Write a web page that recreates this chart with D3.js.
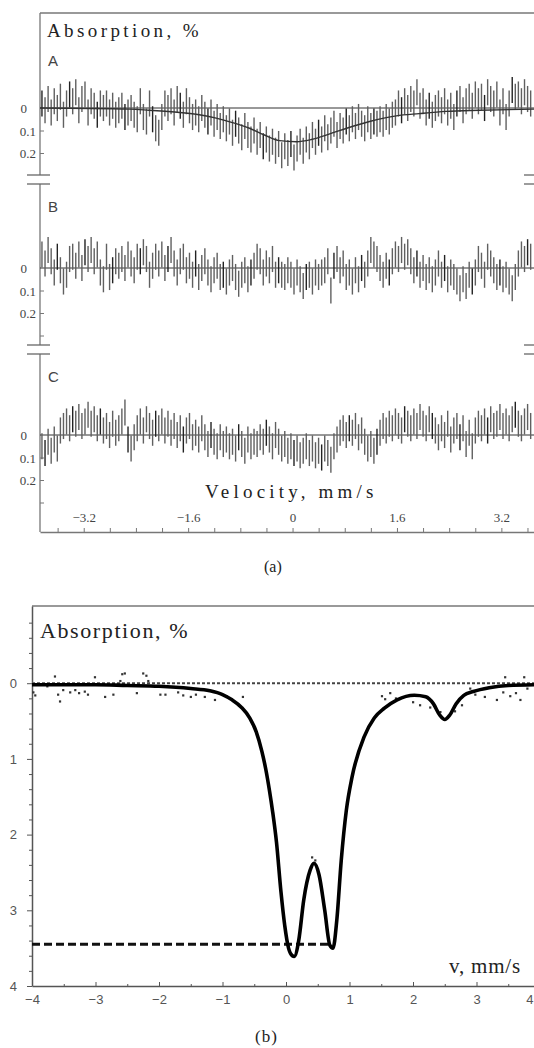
<!DOCTYPE html>
<html>
<head>
<meta charset="utf-8">
<script src="https://cdn.jsdelivr.net/npm/d3@7/dist/d3.min.js"></script>
<style>
  body { margin: 0; background: #fff; }
  svg { display: block; }
</style>
</head>
<body>
<svg width="534" height="1048"></svg>
<script>
// ---------- (a) spectra: channel velocities and absorption values, % ----------
const chanStart = -3.84, chanStep = 0.0471;
const errHalf = 0.058;

const absA = [
  -0.02, 0.01, -0.04, 0.02, -0.03, 0.00, -0.05, 0.03, -0.02, -0.06,
  -0.03, -0.07, 0.01, -0.04, -0.06, 0.02, -0.03, -0.01, 0.03, -0.02,
  0.00, -0.02, 0.02, -0.01, 0.03, 0.01, -0.01, 0.04, 0.02, 0.00,
  0.03, 0.05, -0.03, 0.04, 0.06, -0.02, 0.05, 0.09, 0.11, 0.04,
  -0.02, 0.00, -0.03, 0.02, -0.04, -0.01, 0.03, -0.03, 0.01, 0.04,
  0.02, 0.05, 0.00, 0.03, 0.06, 0.02, 0.07, 0.04, 0.08, 0.05,
  0.09, 0.06, 0.11, 0.07, 0.10, 0.13, 0.08, 0.12, 0.14, 0.10,
  0.15, 0.12, 0.17, 0.14, 0.18, 0.15, 0.19, 0.16, 0.21, 0.17,
  0.20, 0.16, 0.22, 0.18, 0.15, 0.19, 0.14, 0.17, 0.12, 0.15,
  0.11, 0.14, 0.09, 0.13, 0.10, 0.07, 0.12, 0.08, 0.10, 0.06,
  0.09, 0.05, 0.08, 0.04, 0.07, 0.09, 0.05, 0.08, 0.06, 0.07,
  0.05, 0.07, 0.04, 0.06, 0.03, 0.02, -0.02, 0.01, -0.03, 0.00,
  -0.04, -0.02, -0.07, -0.01, -0.03, 0.02, -0.01, 0.03, 0.00, -0.02,
  0.01, -0.03, 0.02, -0.01, 0.04, -0.02, -0.04, 0.01, -0.03, -0.05,
  -0.01, -0.06, -0.03, -0.05, 0.00, -0.07, -0.04, -0.02, -0.06, 0.02,
  -0.03, 0.04, -0.02, -0.08, -0.05, -0.06, -0.03, -0.07, -0.04, -0.02
];

const absB = [
  -0.06, -0.02, -0.08, -0.03, 0.02, -0.05, 0.01, 0.06, 0.03, -0.04,
  -0.05, -0.01, -0.06, 0.00, -0.07, -0.04, -0.08, -0.03, -0.06, 0.02,
  0.05, -0.05, 0.04, 0.01, -0.03, -0.01, -0.04, 0.00, -0.06, -0.02,
  0.01, -0.05, -0.03, -0.07, -0.04, 0.03, -0.01, -0.05, -0.02, -0.06,
  0.00, -0.04, -0.08, -0.02, 0.02, -0.03, -0.05, 0.01, -0.01, 0.03,
  -0.02, 0.04, 0.00, -0.03, 0.02, 0.05, 0.01, -0.01, 0.04, 0.03,
  0.06, 0.02, 0.00, 0.04, 0.07, 0.03, 0.01, 0.05, 0.02, -0.01,
  -0.05, -0.03, 0.02, -0.02, 0.01, -0.04, 0.03, 0.01, 0.03, 0.04,
  0.01, 0.03, 0.06, 0.02, 0.05, 0.08, 0.04, 0.03, 0.06, 0.02,
  0.04, 0.02, 0.01, -0.03, 0.10, -0.01, -0.04, 0.01, -0.02, 0.04,
  0.02, 0.06, 0.01, 0.05, 0.00, 0.03, -0.02, -0.08, -0.06, -0.04,
  0.00, 0.03, -0.01, 0.02, -0.03, -0.06, -0.04, -0.08, -0.05, -0.07,
  -0.03, 0.01, -0.02, 0.03, 0.00, 0.04, 0.01, 0.05, 0.02, -0.02,
  0.03, 0.00, 0.05, 0.02, 0.04, 0.06, 0.09, 0.05, 0.08, 0.03,
  0.06, 0.02, -0.04, -0.01, 0.03, -0.05, -0.02, 0.01, 0.04, 0.02,
  0.05, 0.03, 0.06, 0.09, 0.04, -0.02, -0.06, -0.04, -0.07, -0.05
];

const absC = [
  0.05, 0.08, 0.03, 0.07, 0.02, 0.06, -0.02, -0.04, -0.06, -0.03,
  -0.07, -0.05, -0.08, -0.04, -0.06, -0.09, -0.05, -0.07, -0.03, -0.06,
  -0.02, -0.04, 0.00, -0.05, -0.01, -0.03, -0.06, -0.10, 0.02, 0.06,
  0.01, -0.03, -0.06, -0.02, -0.07, -0.04, -0.01, -0.05, -0.03, -0.06,
  -0.02, -0.05, -0.01, -0.04, 0.00, -0.03, 0.02, -0.02, -0.04, 0.01,
  -0.01, 0.02, -0.03, 0.01, 0.04, 0.00, 0.03, 0.05, 0.01, 0.04,
  0.02, 0.05, 0.03, 0.06, 0.01, 0.04, 0.07, 0.02, 0.05, 0.03,
  0.04, 0.01, 0.03, -0.01, 0.02, 0.05, 0.00, 0.03, 0.06, 0.04,
  0.07, 0.05, 0.08, 0.06, 0.09, 0.07, 0.05, 0.08, 0.06, 0.09,
  0.07, 0.10, 0.06, 0.08, 0.11, 0.05, 0.02, -0.01, -0.03, 0.00,
  -0.03, -0.01, -0.04, 0.01, -0.02, 0.03, 0.06, 0.04, 0.07, 0.03,
  -0.01, -0.04, -0.02, -0.05, -0.03, -0.06, -0.04, -0.02, -0.07, -0.05,
  -0.03, -0.06, -0.04, -0.08, -0.05, -0.03, -0.07, -0.04, -0.02, 0.01,
  -0.03, 0.00, -0.05, 0.02, -0.02, -0.04, 0.01, -0.03, 0.04, -0.01,
  0.05, -0.02, -0.05, -0.03, -0.06, -0.02, -0.07, -0.04, -0.05, -0.08,
  -0.04, -0.06, -0.03, -0.07, -0.09, -0.05, -0.03, -0.06, -0.08, -0.04
];

// fitted curve of spectrum A
const fitAv = [-3.87, -2.5, -2.2, -1.73, -1.43, -1.17, -0.92, -0.66, -0.43, -0.2, 0.06, 0.29, 0.57, 0.83, 1.18, 1.59, 1.94, 2.35, 2.86, 3.70];
const fitAy = [0.0, 0.005, 0.01, 0.02, 0.03, 0.045, 0.065, 0.09, 0.12, 0.145, 0.15, 0.14, 0.115, 0.09, 0.06, 0.035, 0.025, 0.015, 0.01, 0.005];

const ticksA = [-3.6, -3.2, -2.8, -2.4, -2.0, -1.6, -1.2, -0.8, -0.4, 0, 0.4, 0.8, 1.2, 1.6, 2.0, 2.4, 2.8, 3.2, 3.6];
const labelsA = [-3.2, -1.6, 0, 1.6, 3.2];
const panelNames = ["A", "B", "C"];

// ---------- (b) spectrum ----------
const fitBv = [-4.0, -3.5, -3.0, -2.5, -2.0, -1.5, -1.2, -1.0, -0.85, -0.7, -0.57, -0.47, -0.38, -0.32, -0.26, -0.21, -0.15, -0.08, -0.02, 0.04, 0.1, 0.13, 0.2, 0.28, 0.38, 0.44, 0.52, 0.61, 0.69, 0.74, 0.8, 0.87, 0.95, 1.04, 1.23, 1.39, 1.55, 1.75, 2.02, 2.2, 2.32, 2.42, 2.5, 2.58, 2.68, 2.8, 2.95, 3.2, 3.5, 4.0];
const fitBy = [0.02, 0.02, 0.02, 0.03, 0.04, 0.07, 0.1, 0.15, 0.22, 0.32, 0.46, 0.64, 0.9, 1.13, 1.42, 1.7, 2.1, 2.75, 3.2, 3.5, 3.6, 3.61, 3.4, 2.86, 2.47, 2.38, 2.53, 3.0, 3.46, 3.5, 3.13, 2.34, 1.68, 1.24, 0.71, 0.46, 0.33, 0.22, 0.16, 0.18, 0.27, 0.42, 0.48, 0.42, 0.27, 0.16, 0.11, 0.06, 0.03, 0.02];
const dotsBv = [-3.98, -3.95, -3.76, -3.64, -3.59, -3.56, -3.51, -3.40, -3.32, -3.26, -3.17, -3.12, -3.01, -2.85, -2.72, -2.61, -2.58, -2.54, -2.35, -2.25, -2.2, -2.17, -1.98, -1.9, -1.7, -1.62, -1.5, -1.42, -1.28, -1.12, -0.94, -0.68, 0.41, 0.46, 1.51, 1.56, 1.64, 1.73, 2.0, 2.11, 2.27, 2.43, 2.66, 2.77, 2.9, 2.98, 3.13, 3.32, 3.42, 3.45, 3.53, 3.62, 3.69, 3.75, 3.80];
const dotsBy = [0.12, 0.16, 0.04, -0.09, 0.15, 0.24, 0.09, 0.12, 0.09, 0.13, 0.11, 0.15, -0.08, 0.18, 0.15, -0.03, -0.12, -0.13, 0.13, -0.13, -0.1, -0.03, 0.15, 0.15, 0.12, 0.16, 0.18, 0.15, 0.18, 0.22, 0.17, 0.18, 2.3, 2.34, 0.17, 0.21, 0.13, 0.2, 0.25, 0.29, 0.32, 0.38, 0.37, 0.29, 0.07, 0.15, 0.18, 0.22, 0.12, -0.08, 0.17, 0.13, 0.22, -0.08, 0.07];
const levelB = 3.45, levelEndB = 0.72;
const ticksBx = [-4, -3, -2, -1, 0, 1, 2, 3, 4];
const ticksBy = [0, 1, 2, 3, 4];

const svg = d3.select("svg");
const serif = "'Liberation Serif', 'DejaVu Serif', serif";
const sans = "'Liberation Sans', Arial, sans-serif";

// ================= (a) =================
const xA = d3.scaleLinear().domain([-3.87, 3.70]).range([40, 534]);
const spans = [
  { abs: absA, zero: 108, top: 13, bottom: 175 },
  { abs: absB, zero: 268, top: 184, bottom: 345 },
  { abs: absC, zero: 435, top: 354, bottom: 532 }
];

// frame top
svg.append("line").attr("x1", 40).attr("x2", 534).attr("y1", 13).attr("y2", 13)
  .attr("stroke", "#777").attr("stroke-width", 1.3);

spans.forEach(function(p, k) {
  const y = d3.scaleLinear().domain([0, 0.1]).range([p.zero, p.zero + 22.5]);
  const g = svg.append("g");

  // left axis segment
  g.append("line").attr("x1", 40).attr("x2", 40).attr("y1", p.top).attr("y2", p.bottom)
    .attr("stroke", "#777").attr("stroke-width", 1.3);
  const ax = g.append("g").attr("transform", "translate(40,0)")
    .call(d3.axisRight(y).tickValues(k === 0 ? [0.1, 0.2] : [0.1, 0.2, 0.3]).tickSize(4).tickFormat(""));
  ax.select(".domain").remove();
  ax.selectAll("line").attr("stroke", "#777");

  // tick labels
  [[0, "0", 27, 5], [0.1, "0.1", 36, 5], [0.2, "0.2", 36, 5]].forEach(function(t) {
    g.append("text").attr("x", t[2]).attr("y", y(t[0]) + t[3])
      .attr("text-anchor", "end").attr("font-family", serif).attr("font-size", 13)
      .attr("fill", "#444").text(t[1]);
  });

  // zero line
  g.append("line").attr("x1", 40).attr("x2", 534).attr("y1", y(0)).attr("y2", y(0))
    .attr("stroke", "#333").attr("stroke-width", 1);

  // error bars
  g.selectAll("line.bar").data(p.abs).join("line")
    .attr("class", "bar")
    .attr("x1", function(d, i) { return xA(chanStart + i * chanStep); })
    .attr("x2", function(d, i) { return xA(chanStart + i * chanStep); })
    .attr("y1", function(d) { return y(d - errHalf); })
    .attr("y2", function(d) { return y(d + errHalf); })
    .attr("stroke", function(d, i) { return (i * 7 + k) % 9 === 0 ? "#222" : "#606060"; })
    .attr("stroke-width", 1.4);

  // fit for A
  if (k === 0) {
    const line = d3.line()
      .x(function(d, i) { return xA(fitAv[i]); })
      .y(function(d) { return y(d); })
      .curve(d3.curveMonotoneX);
    g.append("path").datum(fitAy)
      .attr("fill", "none").attr("stroke", "#333").attr("stroke-width", 1.4)
      .attr("d", line);
  }

  // panel letter
  g.append("text").attr("x", 48).attr("y", p.top + (k === 0 ? 53 : 28))
    .attr("font-family", sans).attr("font-size", 15).attr("fill", "#444")
    .text(panelNames[k]);
});

// axis break marks
[[175, 184], [345, 354]].forEach(function(b) {
  b.forEach(function(yy) {
    svg.append("line").attr("x1", 27).attr("x2", 50).attr("y1", yy).attr("y2", yy)
      .attr("stroke", "#666").attr("stroke-width", 1.3);
    svg.append("line").attr("x1", 524).attr("x2", 534).attr("y1", yy).attr("y2", yy)
      .attr("stroke", "#666").attr("stroke-width", 1.3);
  });
});

// bottom velocity axis
const axA = svg.append("g").attr("transform", "translate(0,532)")
  .call(d3.axisTop(xA).tickValues(ticksA).tickSize(4).tickSizeOuter(0).tickPadding(6)
    .tickFormat(function(d) { return labelsA.some(function(l) { return Math.abs(l - d) < 1e-6; }) ? d3.format(".1f")(d).replace("0.0", "0") : ""; }));
axA.select(".domain").attr("stroke", "#777").attr("stroke-width", 1.3);
axA.selectAll("line").attr("stroke", "#777");
axA.selectAll("text").attr("font-family", serif).attr("font-size", 13).attr("fill", "#444");

svg.append("text").attr("x", 47).attr("y", 37)
  .attr("font-family", serif).attr("font-size", 19).attr("letter-spacing", 3.4)
  .attr("fill", "#222").text("Absorption, %");
svg.append("text").attr("x", 205).attr("y", 498)
  .attr("font-family", serif).attr("font-size", 19).attr("letter-spacing", 4.2)
  .attr("fill", "#222").text("Velocity, mm/s");
svg.append("text").attr("x", 264).attr("y", 572)
  .attr("font-family", serif).attr("font-size", 16).attr("fill", "#222").text("(a)");

// ================= (b) =================
const xB = d3.scaleLinear().domain([-4, 4]).range([32, 540]);
const yB = d3.scaleLinear().domain([-1.02, 4]).range([606, 986]);
const gB = svg.append("g");

gB.append("line").attr("x1", 32).attr("x2", 534).attr("y1", 606).attr("y2", 606)
  .attr("stroke", "#777").attr("stroke-width", 1.3);

// dotted baseline
gB.append("line").attr("x1", xB(-4)).attr("x2", 534).attr("y1", yB(0)).attr("y2", yB(0))
  .attr("stroke", "#444").attr("stroke-width", 2).attr("stroke-dasharray", "3,2");

// left axis
const minorY = d3.range(-5, 21).map(function(i) { return i / 5; }).filter(function(v) { return v % 1 !== 0; });
const ayMinor = gB.append("g").attr("transform", "translate(32,0)")
  .call(d3.axisLeft(yB).tickValues(minorY).tickSize(3).tickFormat(""));
const ayMajor = gB.append("g").attr("transform", "translate(32,0)")
  .call(d3.axisLeft(yB).tickValues(ticksBy).tickSize(5).tickSizeOuter(0).tickPadding(10).tickFormat(d3.format("d")));
ayMinor.select(".domain").remove();
ayMajor.select(".domain").attr("stroke", "#555").attr("stroke-width", 1.5);
gB.selectAll("line").filter(function() { return this.parentNode.classList.contains("tick"); }).attr("stroke", "#555");
ayMajor.selectAll("text").attr("font-family", sans).attr("font-size", 13).attr("fill", "#555");

// bottom axis
const minorX = [-3.5, -2.5, -1.5, -0.5, 0.5, 1.5, 2.5, 3.5];
const axMinor = gB.append("g").attr("transform", "translate(0,986)")
  .call(d3.axisBottom(xB).tickValues(minorX).tickSize(-2).tickFormat(""));
axMinor.select(".domain").remove();
const axMajor = gB.append("g").attr("transform", "translate(0,986)")
  .call(d3.axisBottom(xB).tickValues(ticksBx).tickSize(-4).tickSizeOuter(0).tickPadding(9).tickFormat(d3.format("d")));
axMajor.select(".domain").attr("stroke", "#555").attr("stroke-width", 1.5);
axMajor.selectAll("line").attr("stroke", "#555");
axMinor.selectAll("line").attr("stroke", "#555");
axMajor.selectAll("text").attr("font-family", sans).attr("font-size", 13).attr("fill", "#555")
  .filter(function(d) { return d === 4; }).attr("text-anchor", "end").attr("dx", "-0.55em");

// dashed level line
gB.append("line").attr("x1", xB(-4)).attr("x2", xB(levelEndB)).attr("y1", yB(levelB)).attr("y2", yB(levelB))
  .attr("stroke", "#111").attr("stroke-width", 3).attr("stroke-dasharray", "8,4");

// measured points
gB.selectAll("rect.dot").data(dotsBy).join("rect")
  .attr("class", "dot")
  .attr("x", function(d, i) { return xB(dotsBv[i]) - 1; })
  .attr("y", function(d) { return yB(d) - 1; })
  .attr("width", 2.2).attr("height", 2.2).attr("fill", "#333");

// fit curve
const lineB = d3.line()
  .x(function(d, i) { return xB(fitBv[i]); })
  .y(function(d) { return yB(d); })
  .curve(d3.curveMonotoneX);
gB.append("path").datum(fitBy)
  .attr("fill", "none").attr("stroke", "#000").attr("stroke-width", 3.6)
  .attr("stroke-linejoin", "round").attr("d", lineB);

gB.append("text").attr("x", 40).attr("y", 638)
  .attr("font-family", serif).attr("font-size", 22).attr("letter-spacing", 1.6)
  .attr("fill", "#222").text("Absorption, %");
gB.append("text").attr("x", 449).attr("y", 973)
  .attr("font-family", serif).attr("font-size", 21).attr("letter-spacing", 0.8)
  .attr("fill", "#222").text("v, mm/s");
gB.append("text").attr("x", 255).attr("y", 1042)
  .attr("font-family", serif).attr("font-size", 17).attr("letter-spacing", 1)
  .attr("fill", "#222").text("(b)");
</script>
</body>
</html>
